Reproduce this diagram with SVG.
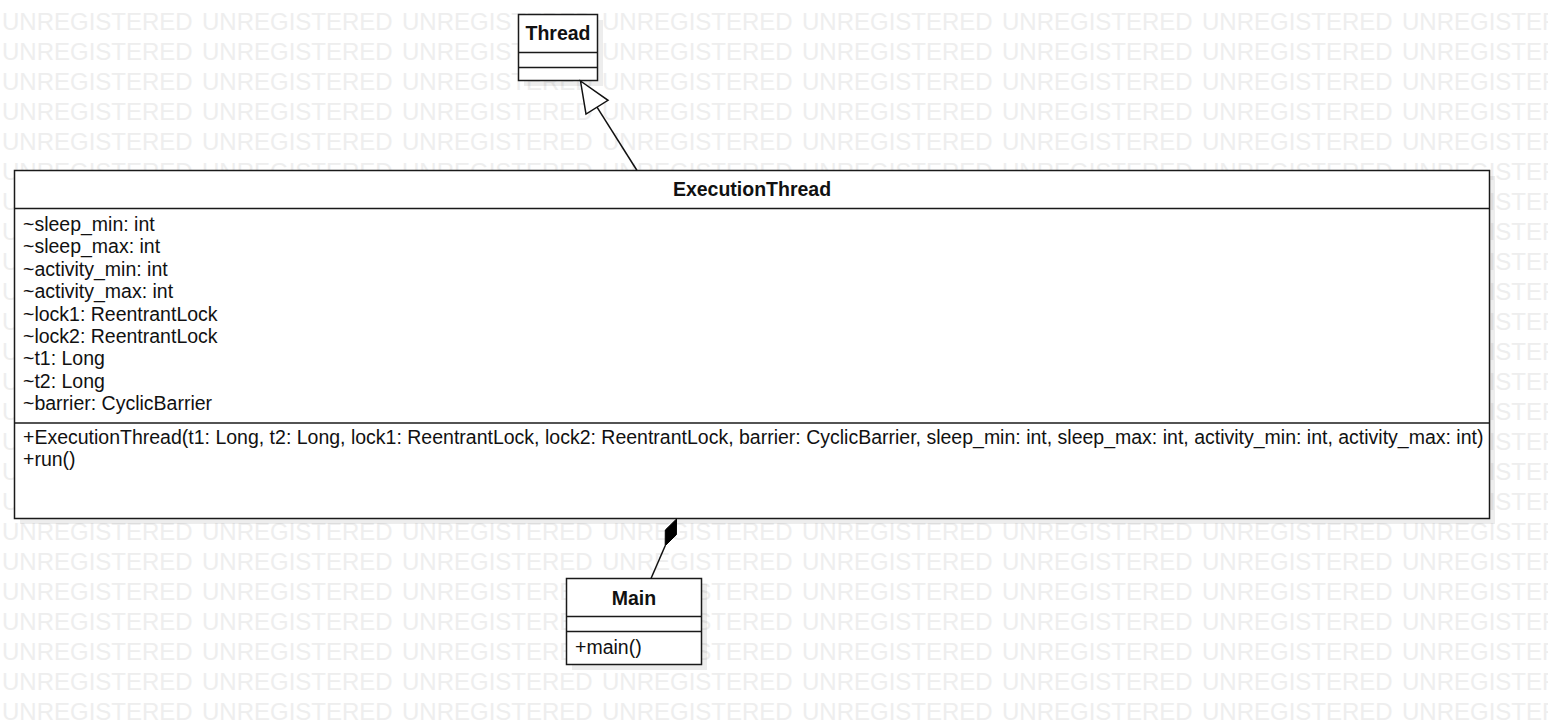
<svg xmlns="http://www.w3.org/2000/svg" width="1548" height="724" viewBox="0 0 1548 724">
<style>
.wm{font-family:"Liberation Sans",Arial,sans-serif;font-size:24px;fill:#eeeeee}
.box{fill:#ffffff;stroke:#1a1a1a;stroke-width:1.5}
.div{stroke:#1a1a1a;stroke-width:1.5}
.shadow{fill:#000000;opacity:0.07}
.t{font-family:"Liberation Sans",Arial,sans-serif;font-size:19.5px;fill:#111111}
.b{font-weight:bold;text-anchor:middle}
.edge{stroke:#111111;stroke-width:1.5;fill:none}
</style>
<defs>
<g id="wmrow">
<text class="wm" x="2" y="0">UNREGISTERED</text>
<text class="wm" x="202" y="0">UNREGISTERED</text>
<text class="wm" x="402" y="0">UNREGISTERED</text>
<text class="wm" x="602" y="0">UNREGISTERED</text>
<text class="wm" x="802" y="0">UNREGISTERED</text>
<text class="wm" x="1002" y="0">UNREGISTERED</text>
<text class="wm" x="1202" y="0">UNREGISTERED</text>
<text class="wm" x="1402" y="0">UNREGISTERED</text>
</g>
</defs>
<rect width="1548" height="724" fill="#ffffff"/>
<g id="watermark">
<use href="#wmrow" y="30"/><use href="#wmrow" y="60"/><use href="#wmrow" y="90"/><use href="#wmrow" y="120"/>
<use href="#wmrow" y="150"/><use href="#wmrow" y="180"/><use href="#wmrow" y="210"/><use href="#wmrow" y="240"/>
<use href="#wmrow" y="270"/><use href="#wmrow" y="300"/><use href="#wmrow" y="330"/><use href="#wmrow" y="360"/>
<use href="#wmrow" y="390"/><use href="#wmrow" y="420"/><use href="#wmrow" y="450"/><use href="#wmrow" y="480"/>
<use href="#wmrow" y="510"/><use href="#wmrow" y="540"/><use href="#wmrow" y="570"/><use href="#wmrow" y="600"/>
<use href="#wmrow" y="630"/><use href="#wmrow" y="660"/><use href="#wmrow" y="690"/><use href="#wmrow" y="720"/>
</g>
<g id="node-thread">
<rect class="shadow" x="524" y="20" width="79" height="66"/>
<rect class="box" x="518.5" y="14.5" width="79" height="66"/>
<line class="div" x1="518.5" y1="52.5" x2="597.5" y2="52.5"/>
<line class="div" x1="518.5" y1="67.5" x2="597.5" y2="67.5"/>
<text class="t b" x="558" y="40">Thread</text>
</g>
<g id="node-executionthread">
<rect class="shadow" x="20" y="176" width="1475" height="348"/>
<rect class="box" x="14.5" y="170.5" width="1475" height="348"/>
<line class="div" x1="14.5" y1="208.5" x2="1489.5" y2="208.5"/>
<line class="div" x1="14.5" y1="423" x2="1489.5" y2="423"/>
<text class="t b" x="752" y="196">ExecutionThread</text>
<text class="t" x="23" y="231">~sleep_min: int</text>
<text class="t" x="23" y="253.4">~sleep_max: int</text>
<text class="t" x="23" y="275.8">~activity_min: int</text>
<text class="t" x="23" y="298.2">~activity_max: int</text>
<text class="t" x="23" y="320.6">~lock1: ReentrantLock</text>
<text class="t" x="23" y="343">~lock2: ReentrantLock</text>
<text class="t" x="23" y="365.4">~t1: Long</text>
<text class="t" x="23" y="387.8">~t2: Long</text>
<text class="t" x="23" y="410.2">~barrier: CyclicBarrier</text>
<text class="t" x="23" y="444">+ExecutionThread(t1: Long, t2: Long, lock1: ReentrantLock, lock2: ReentrantLock, barrier: CyclicBarrier, sleep_min: int, sleep_max: int, activity_min: int, activity_max: int)</text>
<text class="t" x="23" y="466.4">+run()</text>
</g>
<g id="node-main">
<rect class="shadow" x="572" y="584" width="135" height="86"/>
<rect class="box" x="566.5" y="578.5" width="135" height="86"/>
<line class="div" x1="566.5" y1="616.5" x2="701.5" y2="616.5"/>
<line class="div" x1="566.5" y1="631.5" x2="701.5" y2="631.5"/>
<text class="t b" x="634" y="604.5">Main</text>
<text class="t" x="575" y="654">+main()</text>
</g>
<g id="connectors">
<line class="edge" x1="637" y1="170.5" x2="597" y2="107.2"/>
<polygon points="580.5,81 608,100.3 586,114.1" fill="#ffffff" stroke="#111111" stroke-width="1.5"/>
<line class="edge" x1="651" y1="578.5" x2="665.2" y2="545.7"/>
<polygon points="676.5,519 676.4,534.7 665.2,545.7 665.3,530" fill="#000000" stroke="#000000" stroke-width="1"/>
</g>
</svg>
